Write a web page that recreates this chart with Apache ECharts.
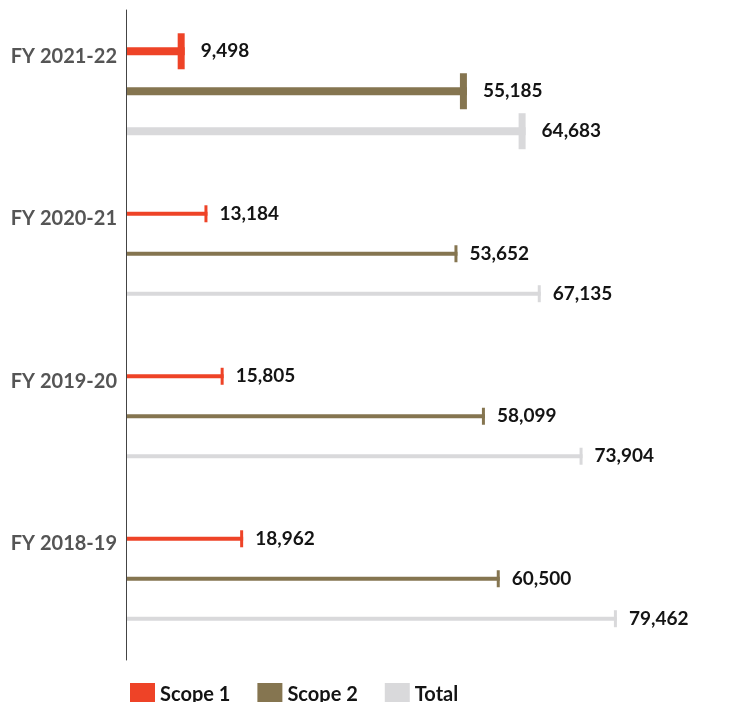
<!DOCTYPE html>
<html>
<head>
<meta charset="utf-8">
<script src="https://cdn.jsdelivr.net/npm/echarts@6/dist/echarts.min.js"></script>
<style>
html,body{margin:0;padding:0;background:#fff;}
#chart{width:737px;height:702px;}
</style>
</head>
<body>
<div id="chart"></div>
<script>
const categories = ['FY 2021-22', 'FY 2020-21', 'FY 2019-20', 'FY 2018-19'];
const scope1 = [9498, 13184, 15805, 18962];
const scope2 = [55185, 53652, 58099, 60500];
const total = [64683, 67135, 73904, 79462];
const seriesNames = ['Scope 1', 'Scope 2', 'Total'];

const colors = ['#EE4327', '#857550', '#D9D9DB'];
const FAMILY = 'Lato, "Open Sans", sans-serif';
const FONT = 'bold 19px ' + FAMILY;

function makeRender(slot, color) {
  return function (params, api) {
    const cat = api.value(1);
    const val = api.value(0);
    const start = api.coord([0, cat]);
    const end = api.coord([val, cat]);
    const band = api.size([0, 1])[1];
    const y = start[1] + slot * band * 0.246;
    const thick = cat === 0;
    const bh = thick ? 8 : 4;
    const capW = thick ? 7 : 3;
    const capH = thick ? 36 : 17;
    const x0 = start[0] + 1;
    return {
      type: 'group',
      children: [
        { type: 'rect', shape: { x: x0, y: y - bh / 2, width: end[0] - x0, height: bh }, style: { fill: color } },
        { type: 'rect', shape: { x: end[0] - capW, y: y - capH / 2, width: capW, height: capH }, style: { fill: color } },
        { type: 'text', style: { x: end[0] + (thick ? 16 : 12), y: y, text: Number(val).toLocaleString('en-US'), fill: '#141414', font: FONT, verticalAlign: 'middle', align: 'left' } }
      ]
    };
  };
}

const dataSets = [scope1, scope2, total];
const series = dataSets.map((arr, k) => ({
  name: seriesNames[k],
  type: 'custom',
  coordinateSystem: 'cartesian2d',
  renderItem: makeRender(k - 1, colors[k]),
  itemStyle: { color: colors[k] },
  encode: { x: 0, y: 1 },
  clip: false,
  data: arr.map((v, i) => [v, i])
}));

const chart = echarts.init(document.getElementById('chart'), null, { renderer: 'canvas' });
chart.setOption({
  animation: false,
  backgroundColor: '#ffffff',
  grid: { left: 126, right: 55, top: 10, bottom: 42 },
  xAxis: { type: 'value', min: 0, max: 90000, show: false },
  yAxis: {
    type: 'category',
    inverse: true,
    data: categories,
    axisLine: { show: true, lineStyle: { color: '#444', width: 1 } },
    axisTick: { show: false },
    axisLabel: {
      margin: 9,
      formatter: function (v) { return '{a|' + v + '}\n{b| }'; },
      rich: {
        a: { color: '#555', fontFamily: FAMILY, fontWeight: 'bold', fontSize: 20, lineHeight: 22, align: 'right' },
        b: { fontSize: 10, lineHeight: 70, align: 'right' }
      }
    },
    splitLine: { show: false }
  },
  legend: {
    left: 125,
    top: 678,
    icon: 'rect',
    itemWidth: 25,
    itemHeight: 24,
    itemGap: 27,
    textStyle: { color: '#141414', fontFamily: FAMILY, fontWeight: 'bold', fontSize: 20, lineHeight: 24 },
    data: seriesNames
  },
  series: series
});
</script>
</body>
</html>
